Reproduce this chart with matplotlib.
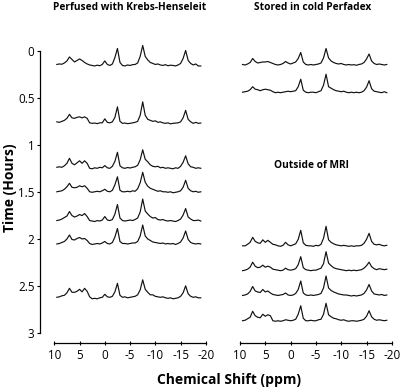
#! /usr/bin/env python3

import matplotlib.pyplot as plt
import numpy as np

plt.rcParams.update({'font.family': 'Open Sans', 'font.size': 8})

# ----------------- DATA -----------------#
# chemical shift grid (ppm), 9.5 .. -19.0 in 0.5 steps
ppm = [9.5, 9.0, 8.5, 8.0, 7.5, 7.0, 6.5, 6.0, 5.5, 5.0, 4.5, 4.0, 3.5, 3.0,
       2.5, 2.0, 1.5, 1.0, 0.5, 0.0, -0.5, -1.0, -1.5, -2.0, -2.5, -3.0,
       -3.5, -4.0, -4.5, -5.0, -5.5, -6.0, -6.5, -7.0, -7.5, -8.0, -8.5,
       -9.0, -9.5, -10.0, -10.5, -11.0, -11.5, -12.0, -12.5, -13.0, -13.5,
       -14.0, -14.5, -15.0, -15.5, -16.0, -16.5, -17.0, -17.5, -18.0,
       -18.5, -19.0]

# acquisition times (hours) of each spectrum
timeKrebs    = [0.149, 0.767, 1.247, 1.503, 1.81, 2.055, 2.635]
timePerfadex = [0.144, 0.44]
timeOutside  = [2.08, 2.34, 2.61, 2.88]

# spectra intensities (a.u.)
krebs1 = [1.0, 1.5, 1.2, 2.5, 4.5, 8.5, 6.0, 3.5, 5.0, 6.5, 5.0, 3.0, 1.5, 0.5,
          0.0, -0.5, 0.3, -0.3, 1.0, 4.5, 1.0, 0.0, 1.5, 8.0, 17.0, 3.0,
          0.0, -0.5, 0.5, 0.0, 0.8, 1.0, 2.5, 9.0, 20.0, 9.0, 5.5,
          3.0, 2.0, 1.0, 1.5, 0.5, 0.0, 0.8, -0.3, 0.3, 0.0,
          -0.5, 0.5, 2.0, 7.0, 15.0, 5.0, 2.0, 0.5, 1.5, -0.5, -0.5]
krebs2 = [1.5, 1.0, 2.0, 3.0, 5.0, 9.0, 5.5, 5.0, 6.0, 6.5, 5.5, 6.5, 5.0, 0.5,
          0.0, 0.3, -0.3, 0.5, 0.5, 4.5, 1.0, 0.5, 1.5, 6.0, 16.5, 2.0,
          0.0, 0.3, -0.3, 0.0, 0.5, 1.0, 2.0, 8.0, 21.5, 8.0, 4.0,
          3.0, 2.0, 2.5, 1.0, 1.5, 0.5, 0.0, 0.5, -0.5, 0.0,
          0.3, 0.5, 1.5, 5.5, 13.0, 4.0, 1.5, 0.0, 1.0, 0.0, 0.3]
krebs3 = [1.0, 1.5, 1.0, 2.5, 5.0, 10.0, 5.0, 3.5, 5.5, 7.5, 5.0, 7.5, 5.0, 0.0,
          -0.5, 0.5, 0.0, 1.0, 0.5, 2.7, 0.5, 0.0, 2.0, 7.0, 16.0, 2.5,
          0.5, 0.0, 0.8, 0.3, 1.0, 1.5, 3.0, 8.5, 18.5, 9.0, 6.5,
          3.5, 2.0, 1.5, 2.0, 0.5, 1.0, 0.0, 0.5, 0.0, -0.5,
          0.5, 0.0, 2.0, 6.0, 12.5, 4.5, 1.5, 1.0, 0.0, 0.5, 0.0]
krebs4 = [0.5, 1.0, 1.5, 3.0, 5.5, 9.0, 5.0, 4.5, 5.0, 6.5, 5.5, 6.5, 4.0, 0.5,
          0.0, 0.5, 1.0, 0.5, 1.5, 3.0, 1.0, 0.5, 2.0, 7.5, 15.5, 2.0,
          0.5, 0.5, 1.0, 0.5, 1.5, 1.0, 3.5, 9.5, 20.0, 10.0, 6.0,
          4.0, 3.0, 2.0, 1.0, 1.5, 0.5, 0.5, 0.0, 0.5, -0.5,
          0.0, 0.5, 1.5, 5.0, 12.0, 4.0, 1.5, 0.5, 1.0, 0.0, 0.5]
krebs5 = [0.5, 1.0, 2.0, 3.5, 5.0, 9.5, 5.5, 4.0, 5.0, 6.5, 5.5, 7.5, 4.5, 0.5,
          0.0, -0.5, 0.5, 0.0, 1.0, 4.5, 1.0, 0.5, 1.5, 7.0, 16.5, 3.0,
          0.5, 0.0, 0.5, 1.0, 0.5, 1.5, 3.0, 9.0, 22.0, 10.0, 7.0,
          4.5, 3.0, 3.5, 1.5, 1.0, 1.5, 0.5, 0.0, 0.5, 0.0,
          -0.5, 0.5, 2.0, 6.0, 12.5, 4.0, 2.0, 0.5, 0.5, 1.0, 0.0]
krebs6 = [0.0, 0.5, 1.5, 2.5, 5.0, 9.0, 4.5, 4.0, 5.5, 6.5, 5.0, 5.5, 3.5, 0.5,
          -0.5, 0.0, 0.5, 0.0, 1.0, 2.5, 0.5, 0.0, 1.5, 7.0, 15.5, 2.5,
          0.5, 0.5, 0.0, 0.5, 1.0, 1.0, 2.5, 8.0, 19.0, 8.0, 5.0,
          3.5, 2.0, 1.5, 1.0, 0.5, 1.0, 0.0, 0.5, 0.0, 0.5,
          -0.5, 0.5, 2.0, 6.0, 13.0, 4.5, 1.5, 0.5, 0.0, 0.5, 0.0]
krebs7 = [1.0, 1.5, 2.5, 3.0, 5.5, 10.0, 6.0, 6.0, 7.0, 9.0, 6.5, 10.0, 7.0, 1.5,
          -0.5, 0.0, -0.5, 0.5, 1.0, 4.0, 1.5, 1.0, 2.0, 6.5, 15.0, 3.0,
          1.0, 1.5, 0.5, 1.0, 1.5, 2.0, 3.5, 8.5, 18.5, 9.0, 6.0,
          3.5, 3.5, 2.0, 1.5, 1.0, 1.5, 0.5, 0.0, 0.5, -0.5,
          0.0, 0.5, 2.0, 5.5, 12.5, 4.5, 2.0, 1.0, 1.5, 0.5, 0.5]

perfadex1 = [0.5, 0.0, 1.0, 2.5, 6.5, 3.5, 2.0, 2.5, 3.0, 3.0, 3.5, 2.5, 1.5, 0.5,
             0.0, 0.5, 1.5, 3.5, 2.0, 1.0, 2.0, 3.0, 6.5, 12.5, 3.0, 0.5,
             0.0, 0.5, 0.0, 0.5, 1.0, 2.0, 7.0, 16.5, 7.0, 4.0, 2.5,
             1.5, 1.0, 1.5, 0.5, 0.0, 0.5, 0.0, 0.3, -0.3, 0.5,
             1.0, 2.5, 6.0, 11.0, 4.0, 1.5, 0.5, 1.0, 0.5, 0.0, 0.5]
perfadex2 = [0.5, 1.0, 1.5, 3.0, 6.0, 3.5, 3.0, 2.0, 3.0, 3.5, 3.0, 2.5, 1.0, 0.0,
             0.5, 0.0, 0.5, 1.0, 1.5, 1.0, 1.5, 2.0, 6.0, 13.5, 2.5, 0.5,
             0.0, 0.5, 0.5, 0.0, 1.0, 2.0, 7.5, 18.5, 6.0, 4.5, 3.0,
             2.0, 1.5, 1.0, 1.5, 0.5, 0.0, 0.5, 0.0, 0.5, 0.0,
             0.5, 2.0, 5.5, 12.0, 4.0, 1.5, 1.0, 0.5, 0.0, 1.0, 0.0]

outside1 = [0.5, 0.5, 2.0, 4.0, 9.0, 5.0, 3.5, 3.0, 6.5, 4.0, 6.0, 4.0, 2.0, 1.5,
            0.5, 0.0, 1.0, 4.0, 1.5, 0.5, 1.5, 2.5, 7.0, 16.0, 3.5, 1.0,
            0.5, 0.5, 0.0, 1.0, 0.5, 2.0, 8.0, 20.0, 6.5, 4.0, 2.5,
            1.5, 1.0, 0.5, 1.0, 0.5, 0.0, 0.5, 0.0, 0.5, 0.5,
            1.0, 3.0, 7.0, 13.0, 5.0, 2.0, 1.5, 2.0, 1.0, 0.5, 1.0]
outside2 = [0.0, 0.5, 1.5, 3.5, 8.5, 4.5, 3.0, 3.5, 5.5, 3.5, 4.5, 3.5, 1.5, 1.0,
            0.5, 0.0, 0.5, 2.5, 1.0, 0.5, 1.0, 2.0, 6.0, 14.0, 3.0, 1.0,
            0.5, 0.0, 0.5, 0.5, 1.5, 2.5, 7.0, 19.0, 7.5, 5.0, 3.0,
            2.0, 1.5, 1.0, 0.5, 0.0, 0.5, 0.0, 0.5, 0.0, 0.5,
            1.0, 2.5, 5.0, 8.5, 4.0, 2.0, 1.0, 2.0, 1.5, 1.0, 1.5]
outside3 = [0.5, 1.0, 2.0, 4.5, 9.5, 5.0, 4.0, 3.5, 6.5, 4.0, 5.0, 3.0, 1.5, 1.0,
            0.5, 1.0, 1.5, 3.0, 1.0, 0.5, 1.0, 2.5, 6.5, 15.0, 3.0, 1.0,
            0.5, 1.0, 0.5, 1.0, 1.5, 2.5, 8.0, 20.0, 8.0, 5.5, 4.0,
            3.0, 2.0, 1.5, 1.0, 1.0, 0.5, 0.0, 0.5, 0.0, 0.5,
            1.0, 2.5, 6.0, 11.5, 5.0, 2.0, 1.5, 1.0, 1.5, 0.5, 1.0]
outside4 = [0.5, 1.0, 2.5, 4.0, 10.0, 5.5, 4.0, 3.5, 7.0, 5.0, 6.5, 5.5, 0.5, 0.0,
            0.5, 0.0, 0.5, 1.5, 1.0, 0.5, 1.0, 2.0, 7.0, 15.5, 3.0, 0.5,
            0.5, 1.0, 0.5, 0.5, 1.5, 2.0, 7.0, 18.0, 6.5, 4.5, 3.0,
            2.5, 1.5, 1.0, 1.5, 0.5, 0.0, 0.5, 0.5, 0.0, 0.5,
            1.0, 2.0, 5.0, 10.5, 4.5, 2.0, 1.0, 1.5, 1.0, 0.5, 1.0]

leftSpectra  = [krebs1, krebs2, krebs3, krebs4, krebs5, krebs6, krebs7]
rightSpectra = [perfadex1, perfadex2, outside1, outside2, outside3, outside4]
rightTimes   = timePerfadex + timeOutside

timeTicks  = [0, 0.5, 1, 1.5, 2, 2.5, 3]
timeLabels = ['0', '0.5', '1', '1.5', '2', '2.5', '3']
ppmTicks   = [10, 5, 0, -5, -10, -15, -20]

# intensity -> hours on the stacked axis
SCALE = 1.0 / 93.7

# ----------------- FIGURE -----------------#
fig = plt.figure(figsize=(4.0, 3.89), dpi=100, facecolor='w')

H = 389.
def axRect(x0, x1, y0=51.5, y1=332.5):
    return [x0 / 400., 1. - y1 / H, (x1 - x0) / 400., (y1 - y0) / H]

axL = fig.add_axes(axRect(40, 206))
axR = fig.add_axes(axRect(240, 392))

for ax in (axL, axR):
    ax.set_facecolor('none')
    ax.spines['top'].set_visible(False)
    ax.spines['right'].set_visible(False)
    ax.spines['bottom'].set_position(('outward', 7.6))
    ax.spines['bottom'].set_bounds(-20, 10)
    ax.spines['bottom'].set_linewidth(0.9)
    ax.set_xticks(ppmTicks)
    ax.set_xticklabels([str(t) for t in ppmTicks])
    ax.tick_params(axis='x', direction='inout', length=3.5, width=0.8,
                   pad=2.5, labelsize=8.4)
    ax.set_ylim(3, 0)

axL.set_xlim(12.83, -20.03)
axR.set_xlim(10.0, -20.03)

axL.spines['left'].set_bounds(0, 3)
axL.spines['left'].set_linewidth(0.9)
axL.set_yticks(timeTicks)
axL.set_yticklabels(timeLabels)
axL.tick_params(axis='y', direction='out', length=2.5, width=0.8,
                pad=1.5, labelsize=8.4)

axR.spines['left'].set_visible(False)
axR.set_yticks([])

for spec, t in zip(leftSpectra, timeKrebs):
    axL.plot(ppm, t - SCALE * np.array(spec), c='#111111', lw=0.85,
             clip_on=False)

for spec, t in zip(rightSpectra, rightTimes):
    axR.plot(ppm, t - SCALE * np.array(spec), c='#111111', lw=0.85,
             clip_on=False)

# ----------------- LABELS -----------------#
fig.text(130 / 400., 1 - 7 / H, 'Perfused with Krebs-Henseleit',
         ha='center', va='center', fontsize=7.3, fontweight='bold')
fig.text(313 / 400., 1 - 7 / H, 'Stored in cold Perfadex',
         ha='center', va='center', fontsize=7.3, fontweight='bold')
fig.text(311 / 400., 1 - 166 / H, 'Outside of MRI',
         ha='center', va='center', fontsize=7.3, fontweight='bold')
fig.text(10 / 400., 1 - 188 / H, 'Time (Hours)', rotation=90,
         ha='center', va='center', fontsize=10, fontweight='bold')
fig.text(229 / 400., 1 - 380 / H, 'Chemical Shift (ppm)',
         ha='center', va='center', fontsize=10, fontweight='bold')

plt.savefig('out.png', dpi=100)
